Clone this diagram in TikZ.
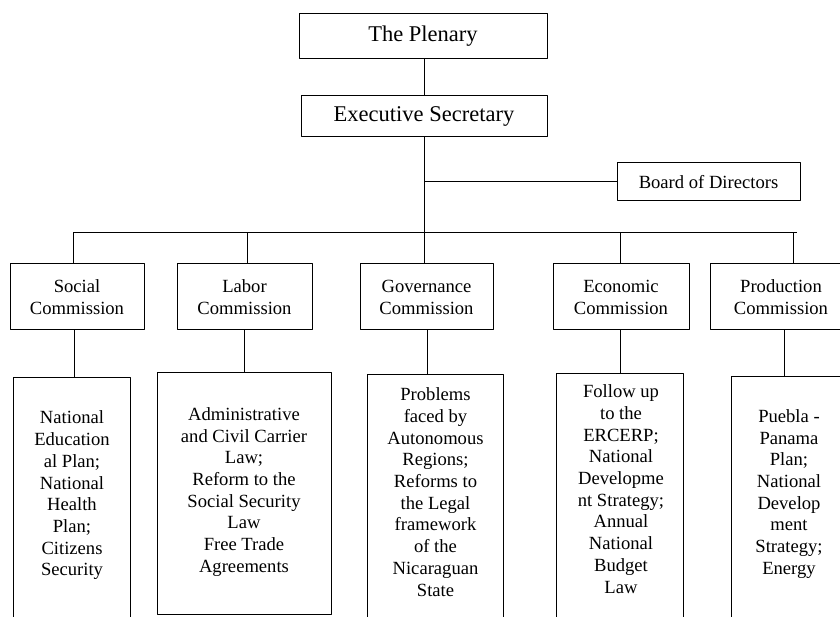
\documentclass[tikz,border=0pt]{standalone}
\usepackage{fontspec}
\setmainfont{Liberation Serif}
\begin{document}
\begin{tikzpicture}[x=1pt, y=-1pt, line width=1pt, line join=round,
	box/.style={draw, rectangle, inner sep=0pt, align=center},
	topbox/.style={box, font=\fontsize{22.5}{26}\selectfont},
	combox/.style={box, minimum height=66pt, font=\fontsize{18.6}{22}\selectfont},
	planbox/.style={draw, rectangle, inner sep=0pt, anchor=north},
	plantext/.style={inner sep=0pt, align=center, font=\fontsize{18.6}{21.7}\selectfont}]
	\useasboundingbox (0,0) rectangle (840,617);
	\clip (0,0) rectangle (840,617);
	\node[topbox, minimum width=248pt, minimum height=45pt] (plen) at (423,36.5) {The Plenary};
	\node[topbox, minimum width=246pt, minimum height=41pt] (exec) at (424,116.5) {Executive Secretary};
	\node[box, minimum width=183pt, minimum height=38pt, font=\fontsize{18.6}{22}\selectfont] (board) at (708.5,182) {Board of Directors};
	\foreach \n/\x/\w/\t in {soc/77/134/Social, lab/244.5/135/Labor, gov/426.5/133/Governance, eco/621/136/Economic, pro/781/142/Production}
	\node[combox, minimum width=\w*1pt] (\n) at (\x,297) {\t\\Commission};
	\node[planbox, minimum width=117pt, minimum height=260pt] (soc-p) at (71.5,377) {};
	\node[planbox, minimum width=174pt, minimum height=242pt] (lab-p) at (244,372) {};
	\node[planbox, minimum width=136pt, minimum height=260pt] (gov-p) at (435,374) {};
	\node[planbox, minimum width=127pt, minimum height=260pt] (eco-p) at (619.5,373) {};
	\node[planbox, minimum width=116pt, minimum height=260pt] (pro-p) at (789,376) {};
	\node[plantext] (soc-t) at (72,495.5) {National\\Education\\al Plan;\\National\\Health\\Plan;\\Citizens\\Security};
	\node[plantext] (lab-t) at (244,492) {Administrative\\and Civil Carrier\\Law;\\Reform to the\\Social Security\\Law\\Free Trade\\Agreements};
	\node[plantext] (gov-t) at (435.5,492) {Problems\\faced by\\Autonomous\\Regions;\\Reforms to\\the Legal\\framework\\of the\\Nicaraguan\\State};
	\node[plantext] (eco-t) at (621,489) {Follow up\\to the\\ERCERP;\\National\\Developme\\nt Strategy;\\Annual\\National\\Budget\\Law};
	\node[plantext] (pro-t) at (789,494) {Puebla -\\Panama\\Plan;\\National\\Develop\\ment\\Strategy;\\Energy};
	\coordinate (busl) at (73,233);
	\coordinate (busr) at (797,233);
	\draw (exec.north |- plen.south) -- (exec.north);
	\draw (exec.south) -- (exec.south |- busl);
	\draw (exec.south |- board.west) -- (board.west);
	\draw (busl) -- (busr);
	\foreach \n/\x in {soc/73, lab/247, gov/424, eco/620, pro/793}
	\draw (\x,0 |- busl) -- (\x,0 |- \n.north);
	\foreach \n/\x in {soc/74, lab/244, gov/427, eco/620, pro/784}
	\draw (\x,0 |- \n.south) -- (\x,0 |- \n-p.north);
\end{tikzpicture}
\end{document}
